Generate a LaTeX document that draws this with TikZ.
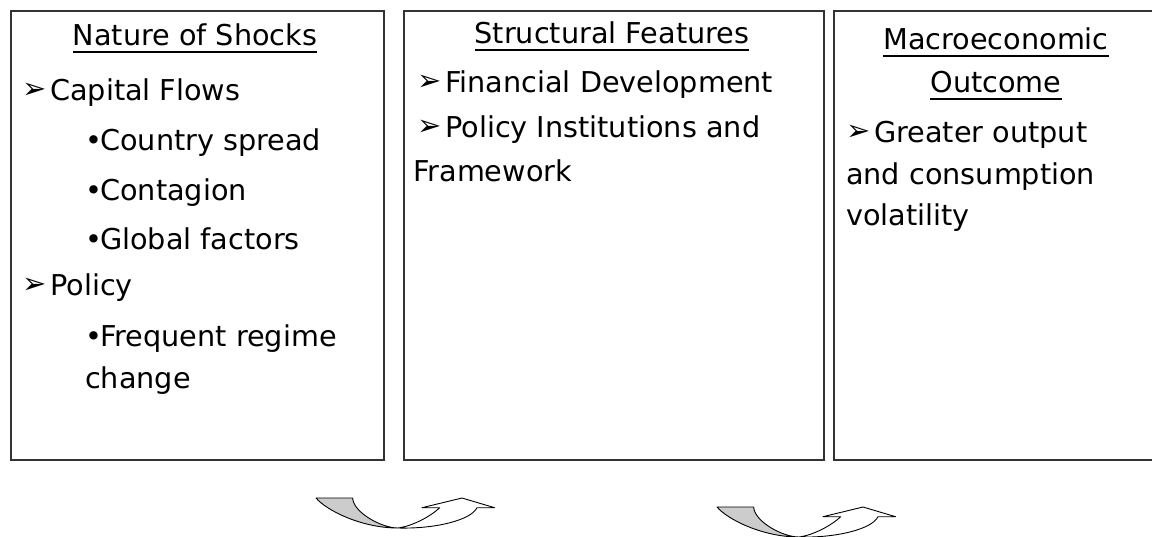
\documentclass[tikz,border=0pt]{standalone}
\usepackage{fontspec}
\setmainfont{DejaVu Sans}
\newcommand{\arrowbul}{\makebox[28pt][l]{\raisebox{1.5pt}{\fontsize{29}{29}\selectfont ➢}}}
\newcommand{\dotbul}{\makebox[15pt][l]{•}}

\tikzset{
  panel/.style={draw=black!80, line width=1.5pt, anchor=north west, inner sep=0pt},
  head/.style={anchor=base, inner sep=0pt},
  item/.style={anchor=base west, inner sep=0pt},
  uline/.style={line width=1.6pt},
  band/.style={draw=black, line width=0.9pt, line join=round},
  curlarrow/.pic={
    \draw[band, fill=black!20] (0,0) -- (36.7,0) .. controls (37,14) and (65,30) .. (82,30)
      .. controls (45,30) and (10,12) .. (0,0) -- cycle;
    \draw[band, fill=white] (82,30) .. controls (97,28) and (115,18) .. (123.7,9.7) -- (106,9.7)
      -- (146,0) -- (178.6,9.7) -- (161,9.7) .. controls (155,22) and (120,31) .. (82,30) -- cycle;
  }
}

\begin{document}
\begin{tikzpicture}[x=1pt, y=-1pt, font=\fontsize{28.7}{34}\selectfont]
\useasboundingbox (0,0) rectangle (1152,536);

\node[panel, minimum width=373pt, minimum height=449pt] (shocks) at (10,10) {};
\node[panel, minimum width=420pt, minimum height=449pt] (features) at (403,10) {};
\node[panel, minimum width=326pt, minimum height=449pt] (outcome) at (833,10) {};

\node[head] (shockst) at (195,45) {Nature of Shocks};
\node[head] (featt) at (612,43) {Structural Features};
\node[head] (outt) at (996,49) {Macroeconomic};
\node[head] (outtb) at (996,92) {Outcome};
\foreach \n in {shockst,featt,outt,outtb}
  \draw[uline] ([yshift=-7pt]\n.base west) -- ([yshift=-7pt]\n.base east);

\node[item] (capital) at (22,100) {\arrowbul Capital Flows};
\node[item] (country) at (85,150) {\dotbul Country spread};
\node[item] (contagion) at (85,200) {\dotbul Contagion};
\node[item] (global) at (85,249) {\dotbul Global factors};
\node[item] (policy) at (22,295) {\arrowbul Policy};
\node[item] (regime) at (85,346) {\dotbul Frequent regime};
\node[item] (regimeb) at (85,388) {change};

\node[item] (findev) at (417,92) {\arrowbul Financial Development};
\node[item] (polinst) at (417,137) {\arrowbul Policy Institutions and};
\node[item] (polinstb) at (413,181) {Framework};

\node[item] (greater) at (846,142) {\arrowbul Greater output};
\node[item] (greaterb) at (846,184) {and consumption};
\node[item] (greaterc) at (846,225) {volatility};

\pic at (316,498) {curlarrow};
\pic at (717,507) {curlarrow};
\end{tikzpicture}
\end{document}
